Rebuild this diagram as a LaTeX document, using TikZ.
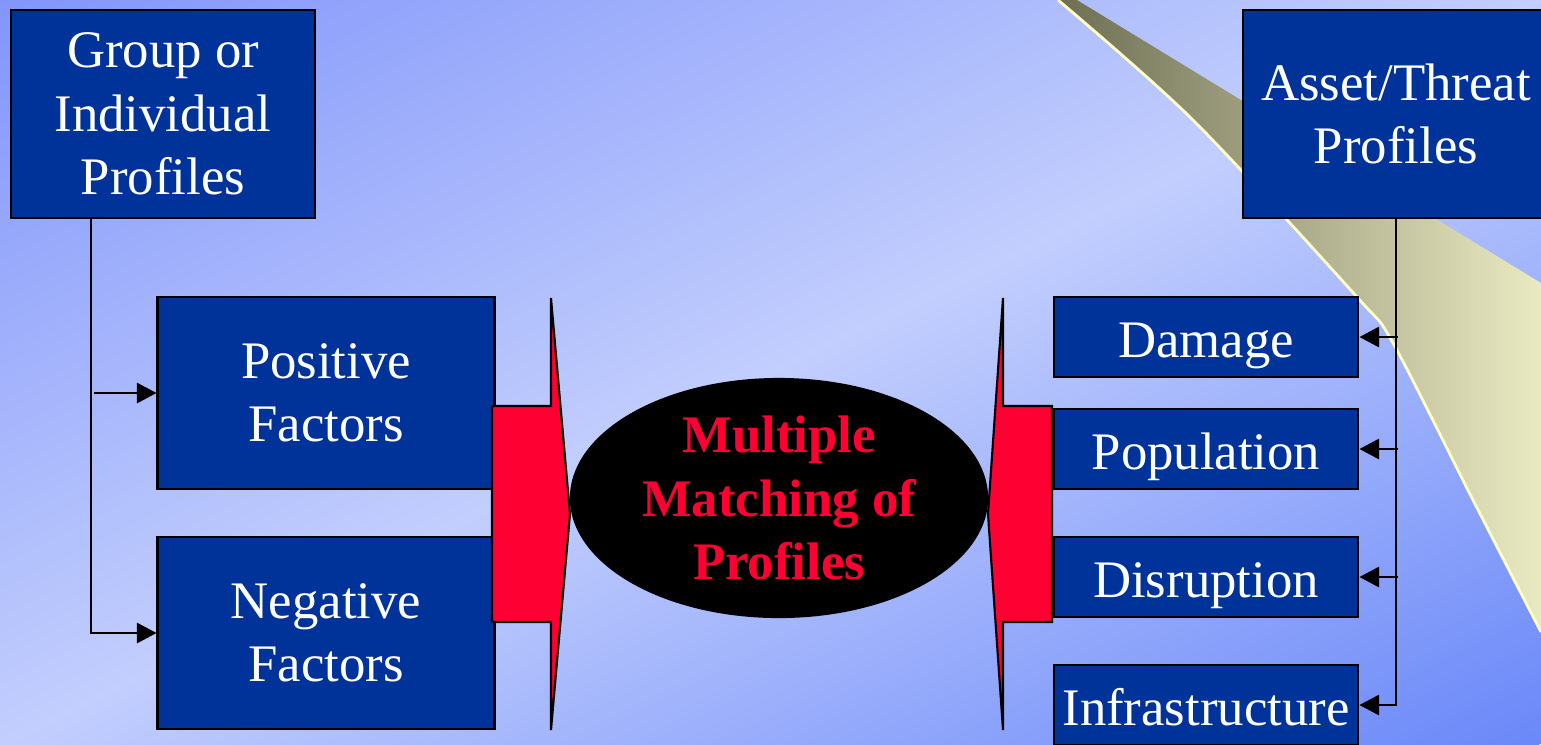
\documentclass[tikz,border=0pt]{standalone}
\usepackage{fontspec}
\setmainfont{Liberation Serif}
\usepackage{tikz}
\usetikzlibrary{shapes,arrows.meta,positioning}
\definecolor{boxblue}{HTML}{003399}
\definecolor{hotred}{HTML}{FF0033}
\definecolor{bgdark}{HTML}{8296FA}
\definecolor{bglight}{HTML}{C2CEFD}
\definecolor{bgdeep}{HTML}{6A88F8}
\definecolor{olive}{HTML}{6E6E54}
\definecolor{cream}{HTML}{EAEAC2}
\definecolor{rim}{HTML}{FFFFC4}
\tikzstyle{bigbox} = [rectangle, draw=black, line width=0.8pt, fill=boxblue, text=white, align=center, inner sep=0pt, minimum width=3.04cm, minimum height=2.08cm, font=\fontsize{15}{18}\selectfont]
\tikzstyle{factor} = [bigbox, minimum width=3.36cm, minimum height=1.92cm]
\tikzstyle{impact} = [bigbox, minimum width=3.04cm, minimum height=0.8cm, text height=13pt, text depth=1.6pt]
\tikzstyle{match} = [ellipse, fill=black, inner sep=0pt, minimum width=4.18cm, minimum height=2.4cm, text=hotred, align=center, font=\fontsize{15}{18}\selectfont\bfseries]
\tikzstyle{feed} = [draw=black, line width=0.6pt, fill=hotred, line join=miter]
\tikzstyle{line} = [draw, line width=0.6pt]
\tikzstyle{arrow} = [line, -{Triangle[length=5.6pt, width=5.8pt]}]

\begin{document}
\begin{tikzpicture}[x=0.01cm, y=-0.01cm]
			\useasboundingbox (0,0) rectangle (1541,744);
			% backdrop
			\begin{scope}
				\clip (0,0) rectangle (1541,744);
				\begin{scope}[transform canvas={rotate around={25.8:(770.5,372)}}]
					\shade [top color=bgdark, bottom color=bgdeep, middle color=bglight] (-400,-298) rectangle (1941,1042);
				\end{scope}
			\end{scope}

			% swoosh
			\shade [left color=olive, right color=cream] (1077,0) -- (1541,283) -- plot [smooth] coordinates {(1541,632) (1473,500) (1393,343) (1357,297) (1193,120) (1058,0)} -- cycle;
			\draw [rim, line width=0.8pt] plot [smooth] coordinates {(1541,632) (1473,500) (1393,343) (1357,297) (1193,120) (1058,0)};

			\node [bigbox] (grp) at (163,114) {Group or\\Individual\\Profiles};
			\node [bigbox, minimum width=3.06cm] (asset) at (1396,114) {Asset/Threat\\Profiles};
			\node [factor] (pos) at (326,393) {Positive\\Factors};
			\node [factor] (neg) at (326,633) {Negative\\Factors};
			\node [impact] (dam) at (1206,337) {Damage};
			\node [impact] (pop) at (1206,449) {Population};
			\node [impact] (dis) at (1206,577) {Disruption};
			\node [impact] (inf) at (1206,705) {Infrastructure};

			\path [feed] (492,406) -- (551,406) -- (551,298) -- (570,514) -- (551,730) -- (551,622) -- (492,622) -- cycle;
			\path [feed] (1052,406) -- (1003,406) -- (1003,298) -- (988,514) -- (1003,730) -- (1003,622) -- (1052,622) -- cycle;
			\node [match] (mm) at (779,498) {Multiple\\Matching of\\Profiles};

			\coordinate (gtrunk) at (91,218);
			\coordinate (ptap) at (94,393);
			\coordinate (atrunk) at (1396,218);
			\coordinate (dtap) at (1398,337);
			\coordinate (otap) at (1398,449);
			\coordinate (stap) at (1398,577);

			\path [arrow] (gtrunk) |- (neg);
			\path [arrow] (ptap) -- (pos);
			\path [arrow] (atrunk) |- (inf);
			\path [arrow] (dtap) -- (dam);
			\path [arrow] (otap) -- (pop);
			\path [arrow] (stap) -- (dis);
		\end{tikzpicture}
\end{document}
